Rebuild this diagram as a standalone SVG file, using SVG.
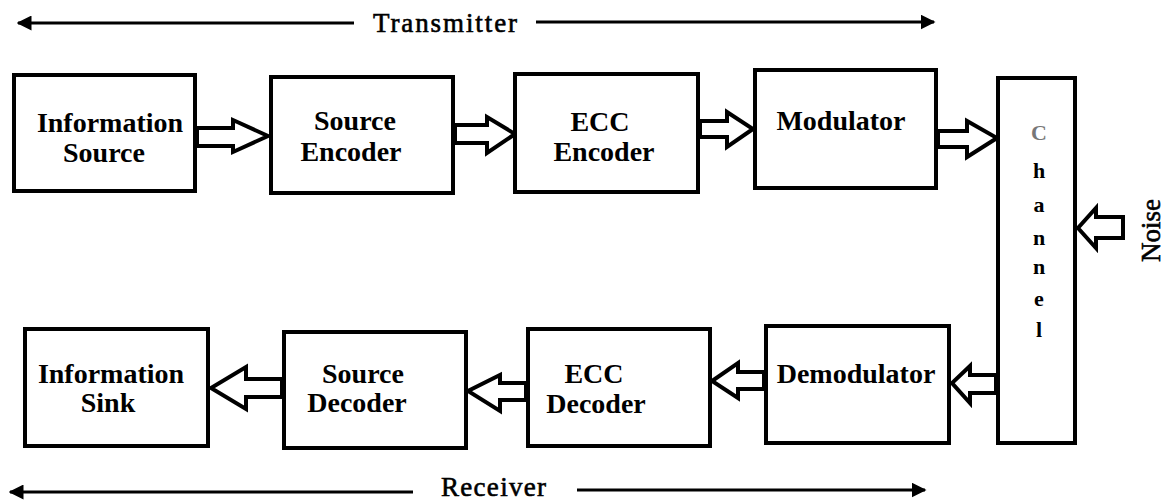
<svg xmlns="http://www.w3.org/2000/svg" width="1164" height="502" viewBox="0 0 1164 502">
  <style>
    .box { fill: #fff; stroke: #000; stroke-width: 4; }
    .flow { fill: #fff; stroke: #000; stroke-width: 4; stroke-linejoin: miter; }
    .span { fill: none; stroke: #000; stroke-width: 3; }
    .lbl { font-family: "Liberation Serif", "Times New Roman", serif; font-weight: bold; font-size: 28px; text-anchor: middle; fill: #000; }
    .ch { font-family: "Liberation Serif", "Times New Roman", serif; font-weight: bold; font-size: 22px; text-anchor: middle; fill: #000; }
    .side { font-family: "Liberation Serif", "Times New Roman", serif; font-size: 27px; fill: #000; stroke: #000; stroke-width: 0.6; }
  </style>
  <defs>
    <marker id="tip" viewBox="0 0 10 10" refX="9" refY="5" markerWidth="5" markerHeight="5" orient="auto-start-reverse" markerUnits="strokeWidth">
      <path d="M0,0 L10,5 L0,10 Z" fill="#000"/>
    </marker>
  </defs>

  <rect width="1164" height="502" fill="#fff"/>

  <!-- transmitter / receiver extent arrows -->
  <g id="extent">
    <line class="span" x1="18" y1="23" x2="354" y2="23" marker-start="url(#tip)"/>
    <text class="side" x="373" y="32" textLength="144">Transmitter</text>
    <line class="span" x1="536" y1="22" x2="934" y2="22" marker-end="url(#tip)"/>

    <line class="span" x1="10" y1="492" x2="413" y2="492" marker-start="url(#tip)"/>
    <text class="side" x="441" y="496" textLength="105">Receiver</text>
    <line class="span" x1="577" y1="490" x2="925" y2="490" marker-end="url(#tip)"/>
  </g>

  <!-- hollow block arrows between stages -->
  <g id="connectors">
    <polygon class="flow" points="197,128 233,128 233,120 268,136 233,152 233,146 197,146"/>
    <polygon class="flow" points="455,125 487,125 487,117 515,134 487,153 487,143 455,143"/>
    <polygon class="flow" points="700,121 727,121 727,112 753,129 727,147 727,137 700,137"/>
    <polygon class="flow" points="938,131 967,131 967,121 997,138 967,157 967,147 938,147"/>
    <polygon class="flow" points="1123,217 1096,217 1096,208 1078,228 1096,248 1096,238 1123,238 1123,217"/>
    <polygon class="flow" points="996,375 970,375 970,366 952,383 970,403 970,393 996,393"/>
    <polygon class="flow" points="764,372 738,372 738,363 712,381 738,398 738,389 764,389"/>
    <polygon class="flow" points="526,383 500,383 500,375 468,391 500,411 500,400 526,400"/>
    <polygon class="flow" points="282,379 246,379 246,367 211,388 246,409 246,397 282,397"/>
  </g>

  <g id="information-source">
    <rect class="box" x="14" y="75" width="181" height="116"/>
    <text class="lbl" x="110" y="132">Information</text>
    <text class="lbl" x="104" y="162">Source</text>
  </g>

  <g id="source-encoder">
    <rect class="box" x="271" y="77" width="182" height="116"/>
    <text class="lbl" x="355" y="130">Source</text>
    <text class="lbl" x="351" y="161">Encoder</text>
  </g>

  <g id="ecc-encoder">
    <rect class="box" x="515" y="74" width="183" height="118"/>
    <text class="lbl" x="600" y="131">ECC</text>
    <text class="lbl" x="604" y="161">Encoder</text>
  </g>

  <g id="modulator">
    <rect class="box" x="755" y="70" width="181" height="118"/>
    <text class="lbl" x="841" y="130">Modulator</text>
  </g>

  <g id="channel">
    <rect class="box" x="998" y="78" width="77" height="365"/>
    <text class="ch" x="1039" y="140" style="fill:#777">C</text>
    <text class="ch" x="1039" y="178">h</text>
    <text class="ch" x="1039" y="212">a</text>
    <text class="ch" x="1039" y="245">n</text>
    <text class="ch" x="1039" y="274">n</text>
    <text class="ch" x="1039" y="306">e</text>
    <text class="ch" x="1039" y="337">l</text>
  </g>

  <g id="noise">
    <text class="side" transform="translate(1160,262) rotate(-90)" font-size="29">Noise</text>
  </g>

  <g id="demodulator">
    <rect class="box" x="766" y="326" width="183" height="117"/>
    <text class="lbl" x="856" y="383">Demodulator</text>
  </g>

  <g id="ecc-decoder">
    <rect class="box" x="528" y="329" width="182" height="117"/>
    <text class="lbl" x="594" y="383">ECC</text>
    <text class="lbl" x="596" y="413">Decoder</text>
  </g>

  <g id="source-decoder">
    <rect class="box" x="284" y="332" width="182" height="116"/>
    <text class="lbl" x="363" y="383">Source</text>
    <text class="lbl" x="357" y="412">Decoder</text>
  </g>

  <g id="information-sink">
    <rect class="box" x="25" y="329" width="183" height="117"/>
    <text class="lbl" x="111" y="383">Information</text>
    <text class="lbl" x="108" y="412">Sink</text>
  </g>
</svg>
